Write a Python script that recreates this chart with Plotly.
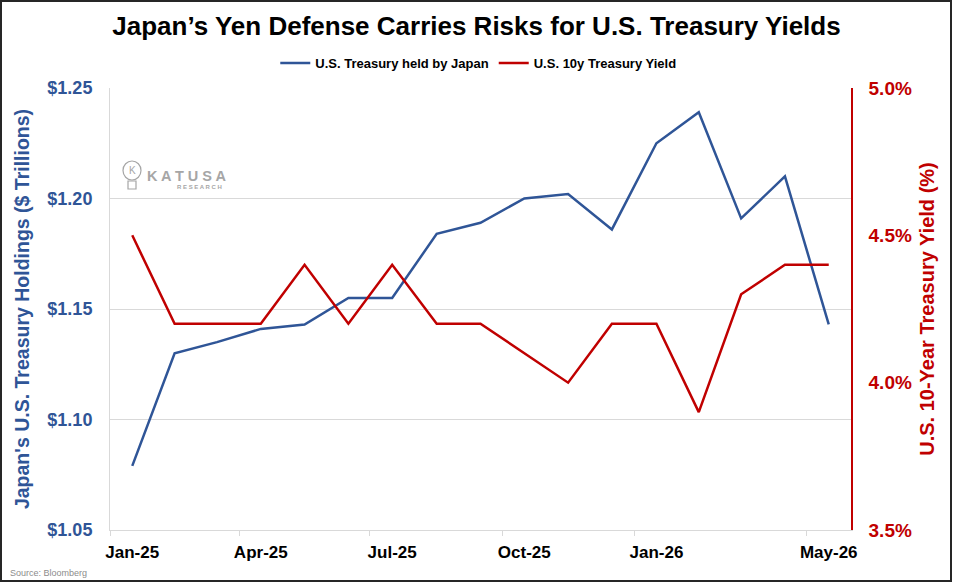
import plotly.graph_objects as go

# monthly readings, each drawn at the middle of its month
months = ["2025-01", "2025-02", "2025-03", "2025-04", "2025-05", "2025-06", "2025-07",
          "2025-08", "2025-09", "2025-10", "2025-11", "2025-12", "2026-01", "2026-02",
          "2026-03", "2026-04", "2026-05"]
holdings = [1.079, 1.130, 1.135, 1.141, 1.143, 1.155, 1.155, 1.184, 1.189, 1.200,
            1.202, 1.186, 1.225, 1.239, 1.191, 1.210, 1.143]
yields = [4.5, 4.2, 4.2, 4.2, 4.4, 4.2, 4.4, 4.2, 4.2, 4.1, 4.0, 4.2, 4.2, 3.9, 4.3,
          4.4, 4.4]

tick_marks = ["2025-01-01", "2025-04-01", "2025-07-01", "2025-10-01", "2026-01-01",
              "2026-05-01"]
tick_dates = ["2025-01-16 12:00", "2025-04-16", "2025-07-16 12:00", "2025-10-16 12:00",
              "2026-01-16 12:00", "2026-05-16 12:00"]
tick_text = ["Jan-25", "Apr-25", "Jul-25", "Oct-25", "Jan-26", "May-26"]

BLUE = "#2F5597"
RED = "#C00000"
FONT = "Liberation Sans"

fig = go.Figure()
fig.add_trace(go.Scatter(x=months, y=holdings, name="<b>U.S. Treasury held by Japan</b>",
                         xperiod="M1", xperiodalignment="middle",
                         mode="lines", line=dict(color=BLUE, width=2.5)))
fig.add_trace(go.Scatter(x=months, y=yields, name="<b>U.S. 10y Treasury Yield</b>",
                         xperiod="M1", xperiodalignment="middle",
                         mode="lines", line=dict(color=RED, width=2.5), yaxis="y2"))

W, H = 953, 583
ml, mr, mt, mb = 110, 102, 88, 53
pw, ph = W - ml - mr, H - mt - mb

fig.update_layout(
    width=W, height=H, autosize=False,
    margin=dict(l=ml, r=mr, t=mt, b=mb),
    paper_bgcolor="white", plot_bgcolor="white",
    font=dict(family=FONT, color="black"),
    title=dict(text="<b>Japan’s Yen Defense Carries Risks for U.S. Treasury Yields</b>",
               x=0.5, xanchor="center", y=0.955, yanchor="middle",
               font=dict(size=26, color="black")),
    legend=dict(orientation="h", x=0.497, xanchor="center", y=1.0 + 25 / ph, yanchor="middle",
                font=dict(size=13, color="black", family=FONT), itemwidth=30,
                traceorder="normal"),
    showlegend=True,
    xaxis=dict(type="date", range=["2025-01-01", "2026-06-01"],
               tickvals=tick_dates, ticktext=["<b>%s</b>" % t for t in tick_text],
               ticks="", tickfont=dict(size=17, color="black"),
               ticklabelstandoff=7,
               showgrid=False, showline=True, linecolor="#D9D9D9", linewidth=1,
               minor=dict(tickvals=tick_marks, ticks="outside", ticklen=5,
                          tickcolor="#D9D9D9", showgrid=False),
               zeroline=False),
    yaxis=dict(range=[1.05, 1.25], dtick=0.05, tickformat="$.2f",
               tickfont=dict(size=18, color=BLUE), tickprefix="<b>", ticksuffix="</b>",
               showgrid=True, gridcolor="#D9D9D9", gridwidth=1,
               showline=True, linecolor="#D9D9D9", linewidth=1,
               ticks="", ticklabelstandoff=13,
               title=dict(text="<b>Japan's U.S. Treasury Holdings ($ Trillions)</b>",
                          font=dict(size=19.5, color=BLUE), standoff=12),
               zeroline=False),
    yaxis2=dict(range=[3.5, 5.0], dtick=0.5, overlaying="y", side="right",
                tickformat=".1f", ticksuffix="%</b>", tickprefix="<b>",
                tickfont=dict(size=19, color=RED),
                showgrid=False, showline=True, linecolor=RED, linewidth=1.5,
                ticks="", ticklabelstandoff=12,
                title=dict(text="<b>U.S. 10-Year Treasury Yield (%)</b>",
                           font=dict(size=20, color=RED), standoff=9),
                zeroline=False),
)

# watermark
fig.add_annotation(text="<b>K A T U S A</b>", xref="paper", yref="paper",
                   x=(145 - ml) / pw, y=1 - (176 - mt) / ph, xanchor="left", yanchor="middle",
                   showarrow=False, font=dict(size=14.5, color="#A6A6A6", family=FONT))
fig.add_annotation(text="<b>R E S E A R C H</b>", xref="paper", yref="paper",
                   x=(175 - ml) / pw, y=1 - (187 - mt) / ph, xanchor="left", yanchor="middle",
                   showarrow=False, font=dict(size=6, color="#A6A6A6", family=FONT))
fig.add_shape(type="circle", xref="paper", yref="paper",
              x0=(123 - ml) / pw, x1=(141 - ml) / pw,
              y0=1 - (180 - mt) / ph, y1=1 - (161 - mt) / ph,
              line=dict(color="#A6A6A6", width=1.2))
fig.add_shape(type="rect", xref="paper", yref="paper",
              x0=(128 - ml) / pw, x1=(136 - ml) / pw,
              y0=1 - (189 - mt) / ph, y1=1 - (181 - mt) / ph,
              line=dict(color="#A6A6A6", width=1.2))
fig.add_annotation(text="K", xref="paper", yref="paper",
                   x=(132 - ml) / pw, y=1 - (170 - mt) / ph, xanchor="center", yanchor="middle",
                   showarrow=False, font=dict(size=10, color="#A6A6A6", family=FONT))

# source note
fig.add_annotation(text="Source: Bloomberg", xref="paper", yref="paper",
                   x=-(ml - 8) / pw, y=-(573 - mt - ph) / ph, xanchor="left", yanchor="middle",
                   showarrow=False, font=dict(size=9, color="#8C8C8C", family=FONT))

# outer frame
fig.add_shape(type="rect", xref="paper", yref="paper",
              x0=-(ml - 1) / pw, x1=1 + (mr - 2) / pw,
              y0=-(mb - 2) / ph, y1=1 + (mt - 1) / ph,
              line=dict(color="#262626", width=2))

fig.write_html("out.html",
               config={"displayModeBar": False, "responsive": False},
               post_script="document.body.style.margin='0';document.body.style.overflow='hidden';")
